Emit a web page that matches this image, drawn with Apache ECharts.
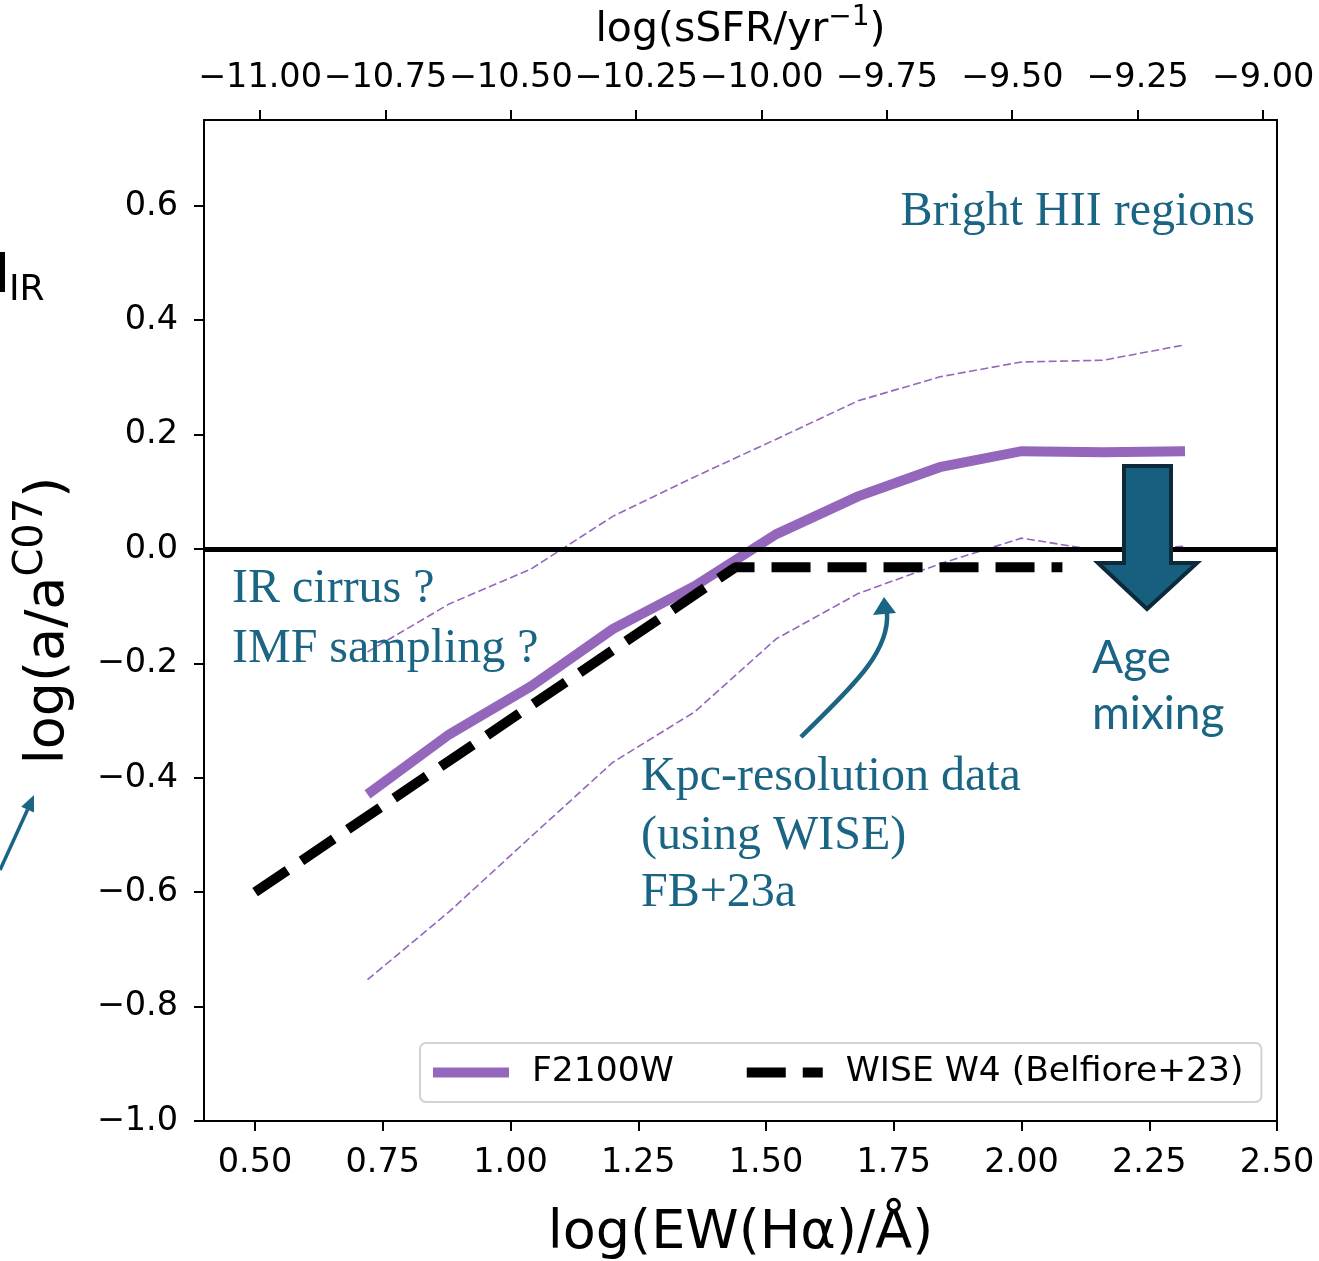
<!DOCTYPE html>
<html lang="en">
<head>
<meta charset="UTF-8">
<title>a/a_C07 vs EW(Ha)</title>
<script src="https://cdn.jsdelivr.net/npm/echarts@6/dist/echarts.min.js"></script>
<style>
    html, body { margin: 0; padding: 0; background: #fff; }
    #box { width: 1319px; height: 1261px; }
</style>
</head>
<body>
<div id="box"></div>
<script>
    // binned curves, x = log(EW(Ha)/A)
    var ewBins = [0.72, 0.88, 1.04, 1.20, 1.36, 1.52, 1.68, 1.84, 2.00, 2.16, 2.32];
    var f2100Median = [-0.429, -0.324, -0.240, -0.140, -0.065, 0.026, 0.092, 0.143, 0.171, 0.169, 0.171];
    var f2100Upper = [-0.180, -0.096, -0.035, 0.057, 0.126, 0.192, 0.259, 0.301, 0.327, 0.330, 0.357];
    var f2100Lower = [-0.753, -0.634, -0.503, -0.373, -0.285, -0.157, -0.078, -0.026, 0.019, -0.004, 0.005];
    // WISE W4 relation (Belfiore+23)
    var wiseX = [0.50, 1.44, 2.08];
    var wiseY = [-0.600, -0.032, -0.032];
    var zeroLevel = 0;

    var ewTicks = [0.50, 0.75, 1.00, 1.25, 1.50, 1.75, 2.00, 2.25, 2.50];
    var ssfrTicks = [-11.00, -10.75, -10.50, -10.25, -10.00, -9.75, -9.50, -9.25, -9.00];
    var yTicks = [-1.0, -0.8, -0.6, -0.4, -0.2, 0.0, 0.2, 0.4, 0.6];

    var purple = '#9467bd';
    var teal = '#1a6484';
    var tickFont = 'DejaVu Sans';

    function fmt(v, d) {
        return v.toFixed(d).replace('-', '\u2212');
    }
    function pairs(xs, ys) {
        var out = [];
        for (var i = 0; i < xs.length; i++) {
            out.push([xs[i], ys[i]]);
        }
        return out;
    }
    function axisLabelStyle(ticks, d, margin) {
        return {
            customValues: ticks,
            formatter: function (v) { return fmt(v, d); },
            margin: margin,
            fontSize: 33.5,
            fontFamily: tickFont,
            color: '#000',
            hideOverlap: false,
            showMinLabel: true,
            showMaxLabel: true
        };
    }
    function axisTickStyle(ticks) {
        return {show: true, customValues: ticks, length: 10, lineStyle: {color: '#000', width: 2}};
    }
    var spine = {show: true, onZero: false, lineStyle: {color: '#000', width: 2}};

    var myChart = echarts.init(document.getElementById('box'));
    var option = {
        animation: false,
        backgroundColor: '#fff',
        grid: {left: 204, right: 42, top: 120, bottom: 140, containLabel: false, outerBoundsMode: 'none'},
        xAxis: [{
            type: 'value',
            position: 'bottom',
            min: 0.4,
            max: 2.5,
            axisLine: spine,
            axisTick: axisTickStyle(ewTicks),
            axisLabel: axisLabelStyle(ewTicks, 2, 25),
            splitLine: {show: false},
            name: 'log(EW(H\u03b1)/\u00c5)',
            nameLocation: 'middle',
            nameGap: 86,
            nameTextStyle: {fontSize: 54, fontFamily: tickFont, color: '#000'}
        }, {
            type: 'value',
            position: 'top',
            min: -11.1117,
            max: -8.972,
            axisLine: spine,
            axisTick: axisTickStyle(ssfrTicks),
            axisLabel: axisLabelStyle(ssfrTicks, 2, 25),
            splitLine: {show: false},
            name: 'log(sSFR/yr{sup|\u22121})',
            nameLocation: 'middle',
            nameGap: 48,
            nameTextStyle: {
                fontSize: 41, lineHeight: 52, fontFamily: tickFont, color: '#000',
                rich: {sup: {fontSize: 28, lineHeight: 28, verticalAlign: 'top', fontFamily: tickFont, color: '#000'}}
            }
        }],
        yAxis: [{
            type: 'value',
            position: 'left',
            min: -1.0,
            max: 0.75,
            axisLine: spine,
            axisTick: axisTickStyle(yTicks),
            axisLabel: axisLabelStyle(yTicks, 1, 26),
            splitLine: {show: false},
            name: 'log(a/a{sup|C07})',
            nameLocation: 'middle',
            nameRotate: 90,
            nameGap: 118,
            nameTextStyle: {
                fontSize: 54, lineHeight: 74, fontFamily: tickFont, color: '#000',
                rich: {sup: {fontSize: 40, lineHeight: 40, verticalAlign: 'top', fontFamily: tickFont, color: '#000'}}
            }
        }, {
            type: 'value',
            position: 'right',
            min: -1.0,
            max: 0.75,
            axisLine: spine,
            axisTick: {show: false},
            axisLabel: {show: false},
            splitLine: {show: false}
        }],
        legend: {
            data: [{name: 'F2100W'}, {name: 'WISE W4 (Belfiore+23)'}],
            left: 420,
            top: 1043,
            orient: 'horizontal',
            itemWidth: 76,
            itemHeight: 14,
            itemGap: 68,
            padding: [12, 18, 12, 8],
            borderColor: '#d2d2d2',
            borderWidth: 2,
            borderRadius: 6,
            backgroundColor: '#fff',
            selectedMode: false,
            itemStyle: {opacity: 0},
            lineStyle: {width: 10},
            textStyle: {fontSize: 34.5, fontFamily: tickFont, color: '#000', padding: [0, 0, 0, 18]}
        },
        series: [{
            name: 'upper',
            type: 'line',
            data: pairs(ewBins, f2100Upper),
            symbol: 'none',
            silent: true,
            z: 2,
            lineStyle: {color: purple, width: 1.6, type: [8, 3.5]}
        }, {
            name: 'lower',
            type: 'line',
            data: pairs(ewBins, f2100Lower),
            symbol: 'none',
            silent: true,
            z: 2,
            lineStyle: {color: purple, width: 1.6, type: [8, 3.5]}
        }, {
            name: 'F2100W',
            type: 'line',
            data: pairs(ewBins, f2100Median),
            symbol: 'none',
            silent: true,
            z: 3,
            itemStyle: {color: purple},
            lineStyle: {color: purple, width: 10, cap: 'butt', join: 'miter'},
            markLine: {
                silent: true,
                symbol: 'none',
                label: {show: false},
                lineStyle: {color: '#000', width: 5, type: 'solid'},
                data: [{yAxis: zeroLevel}]
            }
        }, {
            name: 'WISE W4 (Belfiore+23)',
            type: 'line',
            data: pairs(wiseX, wiseY),
            symbol: 'none',
            silent: true,
            z: 4,
            itemStyle: {color: '#000'},
            lineStyle: {color: '#000', width: 10, type: [39, 17], cap: 'butt'}
        }],
        graphic: [
            // fragment of the neighbouring panel
            {type: 'rect', z: 100, shape: {x: 0, y: 252, width: 5, height: 40}, style: {fill: '#000'}},
            {type: 'text', z: 100, x: 9, y: 291, style: {text: 'IR', font: '36px "DejaVu Sans"', fill: '#000', align: 'left', verticalAlign: 'middle'}},
            {type: 'line', z: 100, shape: {x1: 0, y1: 870, x2: 27.6, y2: 809.6}, style: {stroke: teal, lineWidth: 3.5}},
            {type: 'polygon', z: 100, shape: {points: [[34, 795], [34, 812.4], [21.2, 806.8]]}, style: {fill: teal}},
            // annotations
            {type: 'text', z: 100, x: 1255, y: 212, style: {text: 'Bright HII regions', font: '48px "Liberation Serif"', fill: teal, align: 'right', verticalAlign: 'middle'}},
            {type: 'text', z: 100, x: 232, y: 589, style: {text: 'IR cirrus ?', font: '48px "Liberation Serif"', fill: teal, align: 'left', verticalAlign: 'middle'}},
            {type: 'text', z: 100, x: 232, y: 649, style: {text: 'IMF sampling ?', font: '48px "Liberation Serif"', fill: teal, align: 'left', verticalAlign: 'middle'}},
            {type: 'text', z: 100, x: 641, y: 777, style: {text: 'Kpc-resolution data', font: '48px "Liberation Serif"', fill: teal, align: 'left', verticalAlign: 'middle'}},
            {type: 'text', z: 100, x: 641, y: 836, style: {text: '(using WISE)', font: '48px "Liberation Serif"', fill: teal, align: 'left', verticalAlign: 'middle'}},
            {type: 'text', z: 100, x: 641, y: 893, style: {text: 'FB+23a', font: '48px "Liberation Serif"', fill: teal, align: 'left', verticalAlign: 'middle'}},
            {type: 'text', z: 100, x: 1092, y: 658, style: {text: 'Age', font: '46px Lato', fill: teal, align: 'left', verticalAlign: 'middle'}},
            {type: 'text', z: 100, x: 1092, y: 714, style: {text: 'mixing', font: '46px Lato', fill: teal, align: 'left', verticalAlign: 'middle'}},
            {type: 'bezierCurve', z: 100, shape: {x1: 801, y1: 737, cpx1: 845, cpy1: 693, cpx2: 890, cpy2: 655, x2: 887, y2: 613}, style: {stroke: teal, lineWidth: 4.5, fill: null}},
            {type: 'polygon', z: 100, shape: {points: [[884, 597], [873, 615], [896, 613]]}, style: {fill: teal}},
            {type: 'polygon', z: 100, shape: {points: [[1124, 466], [1171, 466], [1171, 563], [1197, 563], [1147, 609], [1098, 563], [1124, 563]]},
                style: {fill: '#175f7e', stroke: '#0c2a39', lineWidth: 4}}
        ]
    };
    myChart.setOption(option);
</script>
</body>
</html>
